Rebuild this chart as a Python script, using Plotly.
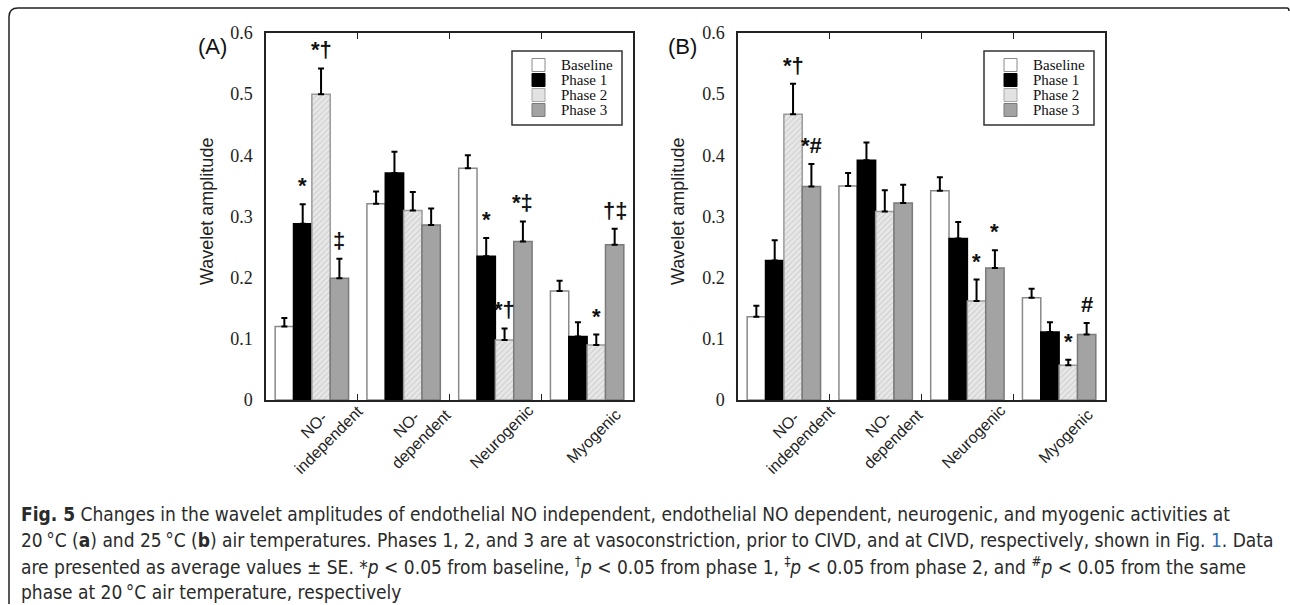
import plotly.graph_objects as go

W, H = 1290, 605

categories = ["NO-<br>independent", "NO-<br>dependent", "Neurogenic", "Myogenic"]
series_names = ["Baseline", "Phase 1", "Phase 2", "Phase 3"]
tick_values = [0, 0.1, 0.2, 0.3, 0.4, 0.5, 0.6]
tick_labels = ["0", "0.1", "0.2", "0.3", "0.4", "0.5", "0.6"]

# Panel (A) 20 °C
a_baseline = [0.120, 0.321, 0.379, 0.178]
a_phase1 = [0.288, 0.371, 0.235, 0.104]
a_phase2 = [0.500, 0.310, 0.098, 0.090]
a_phase3 = [0.199, 0.286, 0.259, 0.254]
a_se_baseline = [0.014, 0.020, 0.021, 0.017]
a_se_phase1 = [0.032, 0.035, 0.030, 0.023]
a_se_phase2 = [0.042, 0.030, 0.019, 0.017]
a_se_phase3 = [0.032, 0.027, 0.033, 0.026]

# Panel (B) 25 °C
b_baseline = [0.136, 0.350, 0.342, 0.167]
b_phase1 = [0.228, 0.392, 0.264, 0.111]
b_phase2 = [0.467, 0.308, 0.162, 0.057]
b_phase3 = [0.349, 0.322, 0.216, 0.107]
b_se_baseline = [0.018, 0.021, 0.022, 0.015]
b_se_phase1 = [0.033, 0.029, 0.027, 0.016]
b_se_phase2 = [0.050, 0.035, 0.035, 0.009]
b_se_phase3 = [0.037, 0.030, 0.029, 0.019]

# significance marks: (category index, series index, text)
a_marks = [(0, 1, "*"), (0, 2, "*†"), (0, 3, "‡"), (2, 1, "*"), (2, 2, "*†"),
           (2, 3, "*‡"), (3, 2, "*"), (3, 3, "†‡")]
b_marks = [(0, 2, "*†"), (0, 3, "*#"), (2, 2, "*"), (2, 3, "*"), (3, 2, "*"), (3, 3, "#")]

caption_lines = [
    "<b>Fig. 5</b> Changes in the wavelet amplitudes of endothelial NO independent, endothelial NO dependent, neurogenic, and myogenic activities at",
    "20\u2009°C (<b>a</b>) and 25\u2009°C (<b>b</b>) air temperatures. Phases 1, 2, and 3 are at vasoconstriction, prior to CIVD, and at CIVD, respectively, shown in Fig. <span style='color:#2f6db5'>1</span>. Data",
    "are presented as average values ± SE. *<i>p</i> &lt; 0.05 from baseline, <sup>†</sup><i>p</i> &lt; 0.05 from phase 1, <sup>‡</sup><i>p</i> &lt; 0.05 from phase 2, and <sup>#</sup><i>p</i> &lt; 0.05 from the same",
    "phase at 20\u2009°C air temperature, respectively",
]


def px(x):
    return x / W


def py(y):
    return 1 - y / H


styles = [
    dict(color="white", line=dict(color="#8a8a8a", width=1.5)),
    dict(color="black", line=dict(color="black", width=1.5)),
    dict(color="#e4e4e4", line=dict(color="#9a9a9a", width=1.5),
         pattern=dict(shape="/", fgcolor="#b8b8b8", bgcolor="#e8e8e8", size=4, solidity=0.3)),
    dict(color="#a3a3a3", line=dict(color="#7a7a7a", width=1.5)),
]
swatch_fill = ["white", "black", "#e2e2e2", "#a3a3a3"]
swatch_line = ["#8a8a8a", "black", "#a8a8a8", "#7a7a7a"]

xpos = list(range(len(categories)))
fig = go.Figure()

panels = [
    ("x", "y", 512, [a_baseline, a_phase1, a_phase2, a_phase3],
     [a_se_baseline, a_se_phase1, a_se_phase2, a_se_phase3], a_marks),
    ("x2", "y2", 984, [b_baseline, b_phase1, b_phase2, b_phase3],
     [b_se_baseline, b_se_phase1, b_se_phase2, b_se_phase3], b_marks),
]

annotations = []
shapes = []
for xa, ya, legx, vals, ses, marks in panels:
    for k, name in enumerate(series_names):
        fig.add_trace(go.Bar(
            x=xpos, y=vals[k], name=name, xaxis=xa, yaxis=ya, showlegend=False,
            marker=styles[k],
            error_y=dict(type="data", symmetric=False, array=ses[k],
                         arrayminus=[0] * len(ses[k]), color="black",
                         thickness=2, width=3),
        ))
    for ci, si, txt in marks:
        annotations.append(dict(
            x=ci + (si - 1.5) * 0.2, y=vals[si][ci] + ses[si][ci],
            xref=xa, yref=ya, text="<b>" + txt + "</b>", showarrow=False,
            xanchor="center", yanchor="bottom", yshift=4,
            font=dict(family="Liberation Sans, Arial", size=22, color="#111"),
        ))
    for ci, cat in enumerate(categories):
        two_line = "<br>" in cat
        annotations.append(dict(
            x=ci + (0.11 if two_line else 0.07), y=py(432 if two_line else 437),
            xref=xa, yref="paper", text=cat,
            showarrow=False, textangle=-45, xanchor="center", yanchor="middle",
            align="center",
            font=dict(family="Liberation Sans, Arial", size=16, color="#222"),
        ))
    # legend drawn by hand (box, swatches, labels)
    shapes.append(dict(type="rect", xref="paper", yref="paper",
                       x0=px(legx), x1=px(legx + 110), y0=py(125), y1=py(51),
                       line=dict(color="#333", width=1.5), fillcolor="white"))
    for k, name in enumerate(series_names):
        yc = 65 + 15 * k
        shapes.append(dict(type="rect", xref="paper", yref="paper",
                           x0=px(legx + 20), x1=px(legx + 33),
                           y0=py(yc + 6.5), y1=py(yc - 6.5),
                           line=dict(color=swatch_line[k], width=1), fillcolor=swatch_fill[k]))
        annotations.append(dict(
            x=px(legx + 47), y=py(yc), xref="paper", yref="paper", text=name,
            showarrow=False, xanchor="left", yanchor="middle",
            font=dict(family="Liberation Serif, Times New Roman", size=15, color="#111"),
        ))

# y titles
for xc in [207, 678]:
    annotations.append(dict(
        x=px(xc), y=py(212), xref="paper", yref="paper", text="Wavelet amplitude",
        textangle=-90, showarrow=False, xanchor="center", yanchor="middle",
        font=dict(family="Liberation Sans, Arial", size=18, color="#222"),
    ))
# panel labels
for xc, lab in [(212.5, "(A)"), (682.5, "(B)")]:
    annotations.append(dict(
        x=px(xc), y=py(46.5), xref="paper", yref="paper", text=lab,
        showarrow=False, xanchor="center", yanchor="middle",
        font=dict(family="Liberation Sans, Arial", size=22, color="#111"),
    ))

# caption
for i, line in enumerate(caption_lines):
    annotations.append(dict(
        x=px(19), y=py(514 + 26 * i), xref="paper", yref="paper", text=line,
        showarrow=False, xanchor="left", yanchor="middle", align="left",
        font=dict(family="Liberation Sans Narrow, DejaVu Sans Condensed, Arial Narrow, sans-serif",
                  size=19, color="#2a2a2a"),
    ))

xax = dict(range=[-0.5, 3.5], tickvals=[0.5, 1.5, 2.5], ticks="inside", ticklen=6,
           tickcolor="#222", showticklabels=False, showline=True, linecolor="#222",
           linewidth=1.5, mirror="ticks", showgrid=False, zeroline=False, fixedrange=True)
yax = dict(range=[0, 0.6], tickvals=tick_values, ticktext=tick_labels, ticks="",
           showline=True, linecolor="#222", linewidth=1.5, mirror=True, showgrid=False,
           zeroline=False, ticklabelstandoff=8,
           tickfont=dict(family="Liberation Serif, Times New Roman", size=18, color="#222"))
yright = dict(range=[0, 0.6], tickvals=tick_values[1:-1], ticks="inside", ticklen=6,
              tickcolor="#222", showticklabels=False, showline=False, showgrid=False,
              zeroline=False, side="right")

domA = [px(266), px(633)]
domB = [px(738), px(1105)]
domY = [py(400), py(33)]

frame_path = (f"M {px(9)},{py(604)} L {px(9)},{py(17)} Q {px(9)},{py(8)} {px(18)},{py(8)} "
              f"L {px(1287)},{py(8)} Q {px(1289)},{py(8)} {px(1289)},{py(11)}")
shapes.append(dict(type="path", path=frame_path, xref="paper", yref="paper",
                   line=dict(color="#222", width=1.5)))

fig.update_layout(
    width=W, height=H, autosize=False,
    margin=dict(l=0, r=0, t=0, b=0, pad=0, autoexpand=False),
    paper_bgcolor="white", plot_bgcolor="white",
    barmode="group", bargap=0.2, bargroupgap=0,
    xaxis=dict(xax, domain=domA, anchor="y"),
    xaxis2=dict(xax, domain=domB, anchor="y2"),
    yaxis=dict(yax, domain=domY, anchor="x"),
    yaxis2=dict(yax, domain=domY, anchor="x2"),
    yaxis3=dict(yright, domain=domY, anchor="x", overlaying="y"),
    yaxis4=dict(yright, domain=domY, anchor="x2", overlaying="y2"),
    annotations=annotations,
    shapes=shapes,
    showlegend=False,
)

fig.write_html("out.html",
               post_script="document.body.style.margin='0';document.body.style.overflow='hidden';")
